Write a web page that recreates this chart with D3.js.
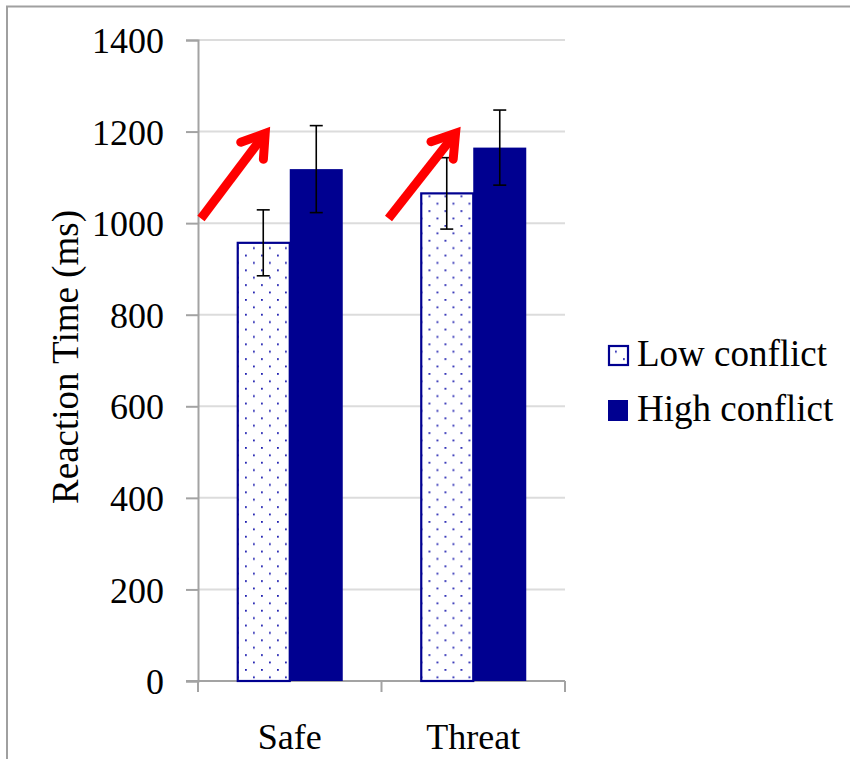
<!DOCTYPE html>
<html>
<head>
<meta charset="utf-8">
<script src="https://cdn.jsdelivr.net/npm/d3@7"></script>
<style>
  html, body { margin: 0; padding: 0; background: #fff; }
  svg { display: block; }
</style>
</head>
<body>
<svg id="chart" width="850" height="759"></svg>
<script>
// Mean reaction times (ms) with error bars, by context and conflict level
const categories = ["Safe", "Threat"];
const seriesNames = ["Low conflict", "High conflict"];
const lowConflict = [957, 1065];
const highConflict = [1118, 1165];
const lowConflictErr = [72, 78];
const highConflictErr = [95, 82];
const yTicks = [0, 200, 400, 600, 800, 1000, 1200, 1400];
// Red "increase" arrows drawn over each group (value range they span)
const arrowFrom = [1010, 1010];
const arrowTo = [1210, 1210];

const NAVY = "#000090";
const AXIS = "#a3a3a3";
const GRID = "#dcdcdc";
const FONT = '"Liberation Serif"';

const svg = d3.select("#chart");

function serif(sel, size) {
  return sel.attr("font-family", "Liberation Serif").style("font-family", FONT)
    .attr("font-size", size || 36).attr("fill", "#000");
}

// Outer frame (top and left rule only)
svg.append("line").attr("x1", 6).attr("x2", 850).attr("y1", 6.5).attr("y2", 6.5)
  .attr("stroke", "#a0a0a0").attr("stroke-width", 2);
svg.append("line").attr("x1", 7).attr("x2", 7).attr("y1", 6).attr("y2", 759)
  .attr("stroke", "#a0a0a0").attr("stroke-width", 2);

// Dotted fill for the low-conflict bars
const defs = svg.append("defs");
const pat = defs.append("pattern").attr("id", "dots")
  .attr("patternUnits", "userSpaceOnUse")
  .attr("x", 15).attr("y", 3)
  .attr("width", 16).attr("height", 14.8);
pat.append("rect").attr("width", 16).attr("height", 14.8).attr("fill", "#fff");
pat.append("rect").attr("x", 0).attr("y", 0).attr("width", 1.8).attr("height", 1.8).attr("fill", "#2020b0");
pat.append("rect").attr("x", 8).attr("y", 7.4).attr("width", 1.8).attr("height", 1.8).attr("fill", "#2020b0");

const plot = { left: 198, right: 565, top: 40, bottom: 681 };

const y = d3.scaleLinear().domain([0, 1400]).range([plot.bottom, plot.top]);
const x0 = d3.scaleBand().domain(categories).range([plot.left, plot.right]).paddingInner(0).paddingOuter(0);
const x1 = d3.scaleBand().domain(seriesNames).range([0, x0.bandwidth()]).paddingInner(0).paddingOuter(0.731);

// Gridlines
svg.append("g").selectAll("line").data(yTicks.filter(d => d > 0)).join("line")
  .attr("x1", plot.left).attr("x2", plot.right)
  .attr("y1", d => y(d)).attr("y2", d => y(d))
  .attr("stroke", GRID).attr("stroke-width", 2);

// Y axis
const yAxis = svg.append("g").attr("transform", `translate(${plot.left},0)`)
  .call(d3.axisLeft(y).tickValues(yTicks).tickSize(12).tickPadding(22).tickFormat(d3.format("d")));
yAxis.attr("font-family", "Liberation Serif");
yAxis.select(".domain").attr("stroke", AXIS).attr("stroke-width", 2);
yAxis.selectAll(".tick line").attr("stroke", AXIS).attr("stroke-width", 2);
serif(yAxis.selectAll(".tick text")).attr("dy", "0.35em");

// X axis
const xAxis = svg.append("g").attr("transform", `translate(0,${plot.bottom})`)
  .call(d3.axisBottom(x0).tickSize(0).tickPadding(42));
xAxis.attr("font-family", "Liberation Serif");
xAxis.select(".domain").remove();
serif(xAxis.selectAll(".tick text"));
svg.append("line").attr("x1", 186).attr("x2", plot.right)
  .attr("y1", plot.bottom).attr("y2", plot.bottom)
  .attr("stroke", AXIS).attr("stroke-width", 2);
const bounds = categories.map(c => x0(c)).concat([plot.right]);
svg.append("g").selectAll("line").data(bounds).join("line")
  .attr("x1", d => d).attr("x2", d => d)
  .attr("y1", plot.bottom).attr("y2", plot.bottom + 11)
  .attr("stroke", AXIS).attr("stroke-width", 2);

// Bars
const rows = categories.map((c, i) => ({
  cat: c,
  vals: [
    { s: seriesNames[0], v: lowConflict[i], e: lowConflictErr[i] },
    { s: seriesNames[1], v: highConflict[i], e: highConflictErr[i] }
  ]
}));

const groups = svg.append("g").selectAll("g").data(rows).join("g")
  .attr("transform", d => `translate(${x0(d.cat)},0)`);

groups.selectAll("rect").data(d => d.vals).join("rect")
  .attr("x", d => x1(d.s) + (d.s === seriesNames[0] ? 1 : 0))
  .attr("width", d => x1.bandwidth() - (d.s === seriesNames[0] ? 1 : 0))
  .attr("y", d => y(d.v))
  .attr("height", d => y(0) - y(d.v))
  .attr("fill", d => d.s === seriesNames[0] ? "url(#dots)" : NAVY)
  .attr("stroke", d => d.s === seriesNames[0] ? NAVY : "none")
  .attr("stroke-width", 2.2);

// Error bars
const eb = groups.selectAll("g.err").data(d => d.vals).join("g").attr("class", "err");
eb.append("line")
  .attr("x1", d => x1(d.s) + x1.bandwidth() / 2).attr("x2", d => x1(d.s) + x1.bandwidth() / 2)
  .attr("y1", d => y(d.v + d.e)).attr("y2", d => y(d.v - d.e))
  .attr("stroke", "#000").attr("stroke-width", 1.6);
eb.selectAll("line.cap").data(d => [d.v + d.e, d.v - d.e].map(v => ({ s: d.s, v }))).join("line")
  .attr("class", "cap")
  .attr("x1", d => x1(d.s) + x1.bandwidth() / 2 - 6.5).attr("x2", d => x1(d.s) + x1.bandwidth() / 2 + 6.5)
  .attr("y1", d => y(d.v)).attr("y2", d => y(d.v))
  .attr("stroke", "#000").attr("stroke-width", 1.6);

// Red arrows: horizontal start/end inside each category band
const arrowX = [{ tail: 3, tip: 72 }, { tail: 7, tip: 79 }];
const arrows = svg.append("g");
categories.forEach((c, i) => {
  const tx = x0(c) + arrowX[i].tail, ty = y(arrowFrom[i]);
  const hx = x0(c) + arrowX[i].tip, hy = y(arrowTo[i]);
  const ang = Math.atan2(ty - hy, tx - hx);          // pointing back along the shaft
  // pull the vertex in so the mitred point lands on the tip
  const vx = hx + 8 * Math.cos(ang), vy = hy + 8 * Math.sin(ang);
  const L = 26, spread = 33 * Math.PI / 180;
  const b1 = [vx + L * Math.cos(ang + spread), vy + L * Math.sin(ang + spread)];
  const b2 = [vx + L * Math.cos(ang - spread), vy + L * Math.sin(ang - spread)];
  arrows.append("line")
    .attr("x1", tx).attr("y1", ty)
    .attr("x2", vx).attr("y2", vy)
    .attr("stroke", "#ff0000").attr("stroke-width", 9).attr("stroke-linecap", "butt");
  arrows.append("path")
    .attr("d", `M${b1[0]},${b1[1]}L${vx},${vy}L${b2[0]},${b2[1]}`)
    .attr("fill", "none").attr("stroke", "#ff0000").attr("stroke-width", 9)
    .attr("stroke-linejoin", "miter").attr("stroke-miterlimit", 10).attr("stroke-linecap", "round");
});

// Y-axis title
serif(svg.append("text"), 37)
  .attr("transform", "translate(65,357) rotate(-90)")
  .attr("text-anchor", "middle").attr("dy", "0.35em")
  .text("Reaction Time (ms)");

// Legend
const legend = svg.append("g").attr("transform", "translate(608,0)");
const legendRows = seriesNames.map((s, i) => ({ s, baseline: [366, 421][i] }));
legend.selectAll("rect").data(legendRows).join("rect")
  .attr("x", d => d.s === seriesNames[0] ? 1 : 0)
  .attr("y", d => d.baseline - (d.s === seriesNames[0] ? 20 : 21))
  .attr("width", d => d.s === seriesNames[0] ? 19 : 20)
  .attr("height", d => d.s === seriesNames[0] ? 19 : 21)
  .attr("fill", d => d.s === seriesNames[0] ? "url(#dots)" : NAVY)
  .attr("stroke", d => d.s === seriesNames[0] ? NAVY : "none")
  .attr("stroke-width", 2.2);
serif(legend.selectAll("text").data(legendRows).join("text"), 37)
  .attr("x", 29).attr("y", d => d.baseline)
  .text(d => d.s);
</script>
</body>
</html>
